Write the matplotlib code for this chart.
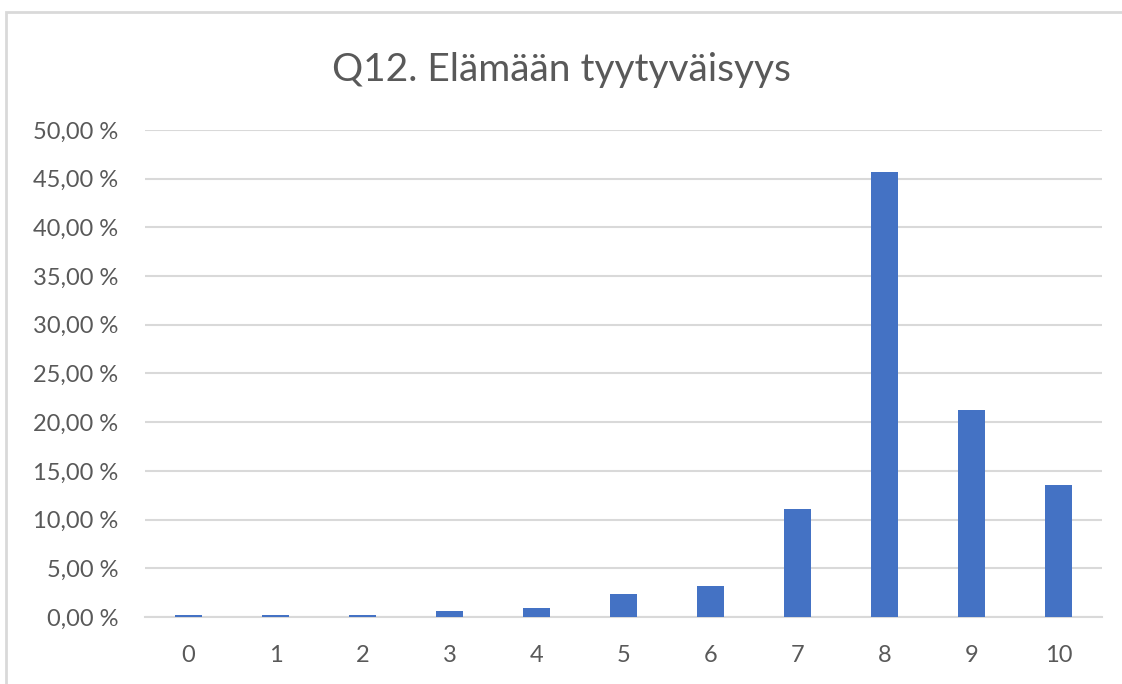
import matplotlib
matplotlib.use("Agg")
import matplotlib.pyplot as plt
from matplotlib.patches import Rectangle
from matplotlib.ticker import FuncFormatter

categories = ["0", "1", "2", "3", "4", "5", "6", "7", "8", "9", "10"]
values = [0.25, 0.25, 0.25, 0.6, 0.9, 2.4, 3.2, 11.1, 45.7, 21.3, 13.6]
yticks = [0, 5, 10, 15, 20, 25, 30, 35, 40, 45, 50]
title = "Q12. Elämään tyytyväisyys"

plt.rcParams['font.family'] = ['Lato', 'DejaVu Sans']
text_color = "#595959"

fig = plt.figure(figsize=(11.22, 6.84), dpi=100)
fig.patches.append(Rectangle((0.005, -0.1), 1.2, 1.082, transform=fig.transFigure,
                             fill=False, edgecolor="#D9D9D9", linewidth=2))
ax = fig.add_axes([0.1292, 0.098, 0.8528, 0.712])
x = list(range(len(categories)))
ax.bar(x, values, width=0.31, color="#4472C4", zorder=3)
ax.set_xlim(-0.5, len(categories) - 0.5)
ax.set_ylim(0, 50)
ax.set_yticks(yticks)
ax.yaxis.set_major_formatter(FuncFormatter(lambda v, p: f"{v:.2f}".replace(".", ",") + " %"))
ax.set_xticks(x)
ax.set_xticklabels(categories)
ax.grid(axis="y", color="#D9D9D9", linewidth=1.5, zorder=0)
for s in ["top", "right", "left"]:
    ax.spines[s].set_visible(False)
ax.spines["bottom"].set_color("#D9D9D9")
ax.spines["bottom"].set_linewidth(1.5)
ax.tick_params(axis="both", length=0, labelsize=17, colors=text_color)
ax.tick_params(axis="y", pad=19)
ax.tick_params(axis="x", pad=20)
fig.text(0.5, 0.898, title, ha="center", va="center", fontsize=28, color=text_color)
fig.savefig("out.png", dpi=100)
